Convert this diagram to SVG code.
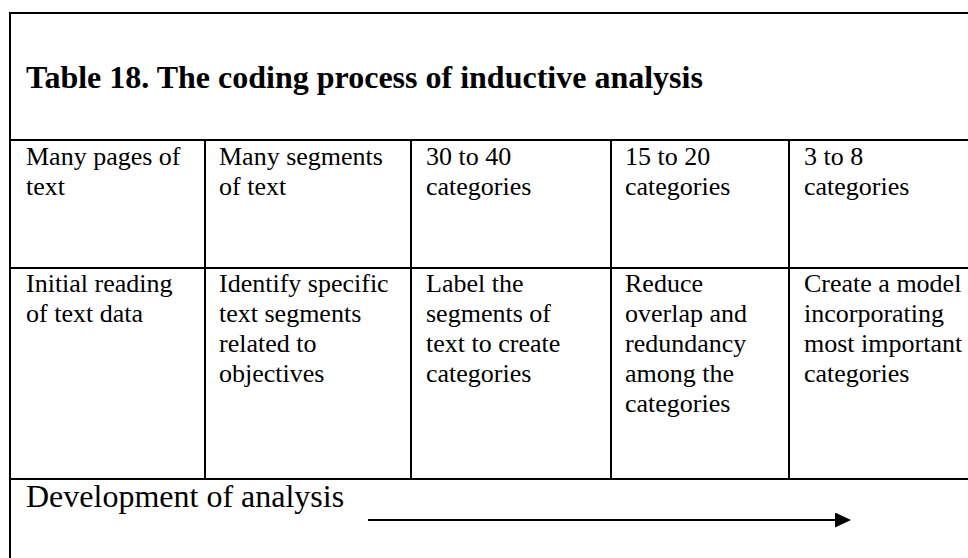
<svg xmlns="http://www.w3.org/2000/svg" width="968" height="558" viewBox="0 0 968 558">
<style>
.ln{stroke:#000;stroke-width:2;fill:none}
.t{font-family:"Liberation Serif","Times New Roman",serif;font-size:26px;fill:#000}
.title{font-family:"Liberation Serif","Times New Roman",serif;font-size:32px;font-weight:bold;fill:#000}
.dev{font-family:"Liberation Serif","Times New Roman",serif;font-size:32px;fill:#000}
</style>
<defs>
<marker id="ah" markerWidth="16" markerHeight="16" refX="0" refY="7.5" orient="auto" markerUnits="userSpaceOnUse">
<path d="M0,0 L16,7.5 L0,15 Z" fill="#000"/>
</marker>
</defs>
<rect width="968" height="558" fill="#fff"/>
<g id="grid">
<path class="ln" d="M10,558 V13 H968"/>
<path class="ln" d="M10,140 H968 M10,268 H968 M10,479 H968"/>
<path class="ln" d="M205,140 V479 M411,140 V479 M611,140 V479 M789,140 V479"/>
</g>
<g id="title"><text class="title" x="26" y="88">Table 18. The coding process of inductive analysis</text></g>
<g id="r1c1"><text class="t" x="26" y="165">Many pages of</text><text class="t" x="26" y="195">text</text></g>
<g id="r1c2"><text class="t" x="219" y="165">Many segments</text><text class="t" x="219" y="195">of text</text></g>
<g id="r1c3"><text class="t" x="426" y="165">30 to 40</text><text class="t" x="426" y="195">categories</text></g>
<g id="r1c4"><text class="t" x="625" y="165">15 to 20</text><text class="t" x="625" y="195">categories</text></g>
<g id="r1c5"><text class="t" x="804" y="165">3 to 8</text><text class="t" x="804" y="195">categories</text></g>
<g id="r2c1"><text class="t" x="26" y="291.5">Initial reading</text><text class="t" x="26" y="321.7">of text data</text></g>
<g id="r2c2"><text class="t" x="219" y="291.5">Identify specific</text><text class="t" x="219" y="321.7">text segments</text><text class="t" x="219" y="352">related to</text><text class="t" x="219" y="382">objectives</text></g>
<g id="r2c3"><text class="t" x="426" y="291.5">Label the</text><text class="t" x="426" y="321.7">segments of</text><text class="t" x="426" y="352">text to create</text><text class="t" x="426" y="382">categories</text></g>
<g id="r2c4"><text class="t" x="625" y="291.5">Reduce</text><text class="t" x="625" y="321.7">overlap and</text><text class="t" x="625" y="352">redundancy</text><text class="t" x="625" y="382">among the</text><text class="t" x="625" y="412">categories</text></g>
<g id="r2c5"><text class="t" x="804" y="291.5">Create a model</text><text class="t" x="804" y="321.7">incorporating</text><text class="t" x="804" y="352">most important</text><text class="t" x="804" y="382">categories</text></g>
<g id="dev"><text class="dev" x="26" y="507">Development of analysis</text></g>
<g id="connectors">
<line class="ln" x1="368" y1="520" x2="835" y2="520" marker-end="url(#ah)"/>
</g>
</svg>
